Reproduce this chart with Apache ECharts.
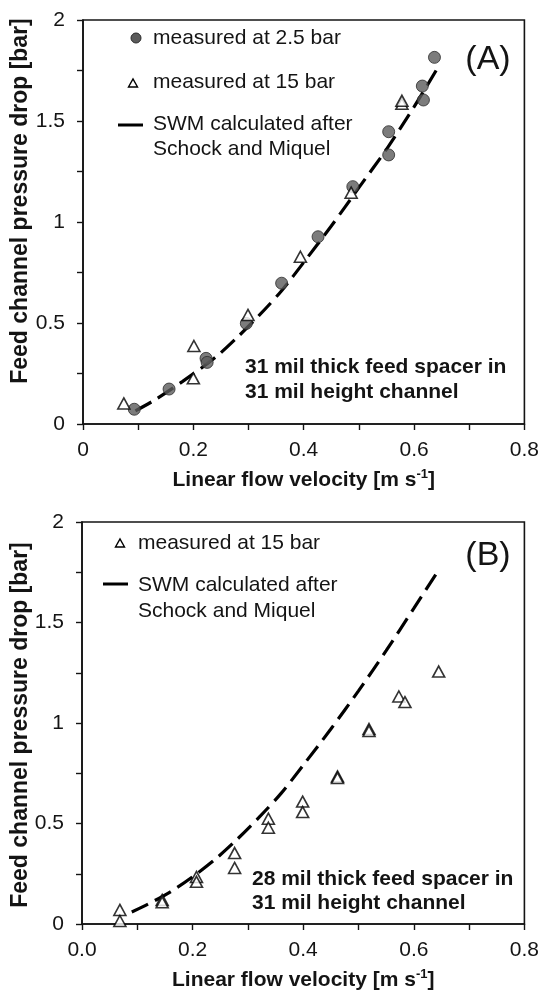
<!DOCTYPE html>
<html>
<head>
<meta charset="utf-8">
<script src="https://cdn.jsdelivr.net/npm/echarts@6/dist/echarts.min.js"></script>
<style>
  html, body { margin: 0; padding: 0; background: #fff; }
  #chart { width: 542px; height: 992px; }
</style>
</head>
<body>
<div id="chart"></div>
<script>
// ---- Panel A: 31 mil spacer in 31 mil channel ----
const circVelA  = [0.093, 0.156, 0.223, 0.225, 0.296, 0.360, 0.426, 0.489, 0.554, 0.554, 0.617, 0.615, 0.637];
const circDropA = [0.073, 0.173, 0.325, 0.305, 0.498, 0.697, 0.927, 1.175, 1.332, 1.447, 1.604, 1.673, 1.815];

const triVelA  = [0.074, 0.200, 0.201, 0.299, 0.394, 0.486, 0.578, 0.578];
const triDropA = [0.102, 0.226, 0.386, 0.540, 0.828, 1.145, 1.585, 1.600];

const swmVelA  = [0.095, 0.13, 0.18, 0.24, 0.28, 0.32, 0.36, 0.40, 0.45, 0.50, 0.55, 0.60, 0.64];
const swmDropA = [0.065, 0.119, 0.21, 0.33, 0.43, 0.54, 0.66, 0.80, 0.98, 1.17, 1.36, 1.57, 1.75];

// ---- Panel B: 28 mil spacer in 31 mil channel ----
const triVelB  = [0.0685, 0.0685, 0.145, 0.145, 0.207, 0.207, 0.276, 0.276, 0.337, 0.337, 0.399, 0.399, 0.462, 0.462, 0.519, 0.519, 0.573, 0.584, 0.645];
const triDropB = [0.070, 0.015, 0.120, 0.108, 0.234, 0.210, 0.353, 0.279, 0.524, 0.479, 0.609, 0.557, 0.734, 0.726, 0.970, 0.960, 1.132, 1.104, 1.256];

const swmVelB  = [0.09, 0.12, 0.16, 0.20, 0.24, 0.28, 0.32, 0.36, 0.40, 0.45, 0.50, 0.55, 0.60, 0.64];
const swmDropB = [0.06, 0.10, 0.16, 0.235, 0.32, 0.42, 0.53, 0.65, 0.79, 0.97, 1.16, 1.36, 1.57, 1.74];

// ---- tick labels ----
const xTickLabelsA = ['0', '0.2', '0.4', '0.6', '0.8'];
const xTickLabelsB = ['0.0', '0.2', '0.4', '0.6', '0.8'];
const yTickLabels  = ['0', '0.5', '1', '1.5', '2'];

const FONT = '"Liberation Sans", Arial, Helvetica, sans-serif';
const INK = '#141414';

const zip = (xs, ys) => xs.map((x, i) => [x, ys[i]]);

function xAxisFor(gridIndex, labels) {
  return {
    type: 'value', gridIndex, min: 0, max: 0.8, interval: 0.2,
    axisLine: { show: true, lineStyle: { color: INK, width: 1.6 } },
    axisTick: { show: true, length: 6, inside: false, lineStyle: { color: INK, width: 1.4 } },
    minorTick: { show: true, splitNumber: 2, length: 6, lineStyle: { color: INK, width: 1.4 } },
    splitLine: { show: false },
    axisLabel: {
      margin: 16, fontSize: 21, color: INK, fontFamily: FONT,
      formatter: (v) => labels[Math.round(v / 0.2)]
    },
    name: 'Linear flow velocity [m s{sup|-1}]',
    nameLocation: 'middle', nameGap: 44,
    nameTextStyle: {
      fontSize: 21, fontWeight: 'bold', color: INK, fontFamily: FONT,
      rich: {
        sup: { fontSize: 13, fontWeight: 'bold', color: INK, fontFamily: FONT, padding: [0, 0, 12, 0] }
      }
    }
  };
}

function yAxisFor(gridIndex) {
  return {
    type: 'value', gridIndex, min: 0, max: 2, interval: 0.5,
    axisLine: { show: true, lineStyle: { color: INK, width: 1.6 } },
    axisTick: { show: true, length: 6, inside: false, lineStyle: { color: INK, width: 1.4 } },
    minorTick: { show: true, splitNumber: 2, length: 6, lineStyle: { color: INK, width: 1.4 } },
    splitLine: { show: false },
    axisLabel: {
      margin: 18, fontSize: 21, color: INK, fontFamily: FONT,
      formatter: (v) => yTickLabels[Math.round(v / 0.5)]
    }
  };
}

const dashStyle = { color: '#000', width: 3.2, type: [18, 8], cap: 'butt' };
const circleStyle = { color: '#5b5b5b', borderColor: '#2b2b2b', borderWidth: 1 };
const triStyle = { color: '#ffffff', borderColor: '#000', borderWidth: 1.6 };

const textBase = { fontFamily: FONT, fill: INK, fontSize: 21, verticalAlign: 'middle' };

const option = {
  animation: false,
  backgroundColor: '#fff',
  grid: [
    { left: 83, right: 17, top: 20, bottom: 568, show: true, borderColor: INK, borderWidth: 1.6, backgroundColor: 'transparent' },
    { left: 82, right: 16, top: 522, bottom: 65, show: true, borderColor: INK, borderWidth: 1.6, backgroundColor: 'transparent' }
  ],
  xAxis: [xAxisFor(0, xTickLabelsA), xAxisFor(1, xTickLabelsB)],
  yAxis: [yAxisFor(0), yAxisFor(1)],
  series: [
    {
      name: 'SWM calculated after Schock and Miquel', type: 'line', xAxisIndex: 0, yAxisIndex: 0,
      data: zip(swmVelA, swmDropA), smooth: 0.3, showSymbol: false, lineStyle: dashStyle, z: 2
    },
    {
      name: 'measured at 2.5 bar', type: 'scatter', xAxisIndex: 0, yAxisIndex: 0,
      data: zip(circVelA, circDropA), symbol: 'circle', symbolSize: 12, itemStyle: circleStyle, z: 3
    },
    {
      name: 'measured at 15 bar', type: 'scatter', xAxisIndex: 0, yAxisIndex: 0,
      data: zip(triVelA, triDropA), symbol: 'triangle', symbolSize: [12, 11], itemStyle: triStyle, z: 4
    },
    {
      name: 'SWM calculated after Schock and Miquel (B)', type: 'line', xAxisIndex: 1, yAxisIndex: 1,
      data: zip(swmVelB, swmDropB), smooth: 0.3, showSymbol: false, lineStyle: dashStyle, z: 2
    },
    {
      name: 'measured at 15 bar (B)', type: 'scatter', xAxisIndex: 1, yAxisIndex: 1,
      data: zip(triVelB, triDropB), symbol: 'triangle', symbolSize: [12, 11], itemStyle: triStyle, z: 4
    }
  ],
  graphic: [
    // y-axis titles
    { type: 'text', x: 21, y: 201, rotation: Math.PI / 2,
      style: Object.assign({}, textBase, { text: 'Feed channel pressure drop [bar]', fontWeight: 'bold', fontSize: 23, align: 'center' }) },
    { type: 'text', x: 21, y: 725, rotation: Math.PI / 2,
      style: Object.assign({}, textBase, { text: 'Feed channel pressure drop [bar]', fontWeight: 'bold', fontSize: 23, align: 'center' }) },

    // panel A key
    { type: 'circle', shape: { cx: 136, cy: 38, r: 5 }, style: { fill: '#5b5b5b', stroke: '#2b2b2b', lineWidth: 1 } },
    { type: 'text', x: 153, y: 38, style: Object.assign({}, textBase, { text: 'measured at 2.5 bar' }) },
    { type: 'polygon', shape: { points: [[128.5, 87], [137.5, 87], [133, 79]] }, style: { fill: '#fff', stroke: '#000', lineWidth: 1.4 } },
    { type: 'text', x: 153, y: 82, style: Object.assign({}, textBase, { text: 'measured at 15 bar' }) },
    { type: 'line', shape: { x1: 118, y1: 125, x2: 143, y2: 125 }, style: { stroke: '#000', lineWidth: 3 } },
    { type: 'text', x: 153, y: 124, style: Object.assign({}, textBase, { text: 'SWM calculated after' }) },
    { type: 'text', x: 153, y: 149, style: Object.assign({}, textBase, { text: 'Schock and Miquel' }) },
    { type: 'text', x: 488, y: 60, style: Object.assign({}, textBase, { text: '(A)', fontSize: 34, align: 'center' }) },
    { type: 'text', x: 245, y: 367, style: Object.assign({}, textBase, { text: '31 mil thick feed spacer in', fontWeight: 'bold' }) },
    { type: 'text', x: 245, y: 392, style: Object.assign({}, textBase, { text: '31 mil height channel', fontWeight: 'bold' }) },

    // panel B key
    { type: 'polygon', shape: { points: [[115.5, 547], [124.5, 547], [120, 539]] }, style: { fill: '#fff', stroke: '#000', lineWidth: 1.4 } },
    { type: 'text', x: 138, y: 543, style: Object.assign({}, textBase, { text: 'measured at 15 bar' }) },
    { type: 'line', shape: { x1: 103, y1: 584, x2: 128, y2: 584 }, style: { stroke: '#000', lineWidth: 3 } },
    { type: 'text', x: 138, y: 585, style: Object.assign({}, textBase, { text: 'SWM calculated after' }) },
    { type: 'text', x: 138, y: 611, style: Object.assign({}, textBase, { text: 'Schock and Miquel' }) },
    { type: 'text', x: 488, y: 556, style: Object.assign({}, textBase, { text: '(B)', fontSize: 34, align: 'center' }) },
    { type: 'text', x: 252, y: 879, style: Object.assign({}, textBase, { text: '28 mil thick feed spacer in', fontWeight: 'bold' }) },
    { type: 'text', x: 252, y: 903, style: Object.assign({}, textBase, { text: '31 mil height channel', fontWeight: 'bold' }) }
  ]
};

const chart = echarts.init(document.getElementById('chart'), null, { renderer: 'canvas' });
chart.setOption(option);
</script>
</body>
</html>
